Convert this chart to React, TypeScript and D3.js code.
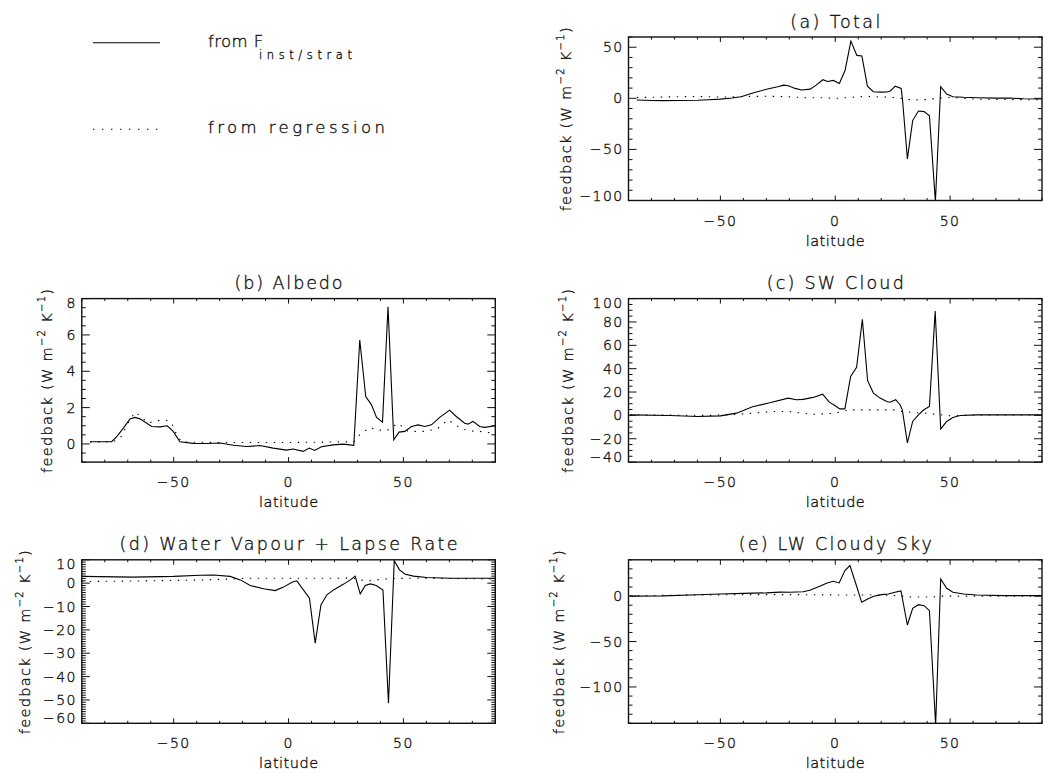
import React from 'react';
import * as d3 from 'd3';

type Point = [number, number]; // [latitude (deg), feedback (W m-2 K-1)]

// ---------- latitude axis ----------
const latDomain: [number, number] = [-90, 90];
const latMajorTicks = [-50, 0, 50];
const latMinorTicks = d3.range(-90, 91, 10);

// ---------- (a) Total ----------
const totalInst: Point[] = [
  [-86.4, -1.7], [-80, -2.1], [-75, -2.3], [-68, -2.2], [-60, -1.9], [-55, -1.4], [-50, -0.8],
  [-45, 0.3], [-41, 1.6], [-35.5, 5.4], [-30, 8.8], [-25, 11.4], [-22.5, 12.9], [-20.4, 12.3],
  [-17.5, 9.7], [-14.6, 8.1], [-10.9, 9.0], [-8.3, 12.9], [-5.4, 18.2], [-3.4, 16.5], [-0.8, 17.5],
  [1.8, 14.6], [4.3, 27.5], [6.8, 56.0], [9.4, 42.0], [11.6, 41.4], [14.0, 11.9], [16.6, 6.4],
  [19.5, 6.1], [22.4, 6.2], [24.0, 7.2], [26.1, 11.9], [28.7, 9.7], [29.3, -1.6], [31.4, -59.3],
  [33.7, -21.8], [36.2, -12.4], [38.7, -13.0], [41.0, -17.2], [43.6, -101], [45.9, 11.3],
  [48.5, 4.2], [51.2, 1.6], [55.8, 1.0], [62, 0.6], [70, 0.2], [76, 0.3], [82, -0.4], [90, -0.7],
];
const totalReg: Point[] = [
  [-86.4, 0.8], [-80, 1.0], [-70, 1.5], [-60, 1.8], [-50, 1.2], [-40, 1.8], [-30, 2.0], [-21, 1.6],
  [-13, 0.6], [-6, 0.5], [1, 0.0], [6, 0.8], [11, 1.6], [16, 1.8], [22, 1.2], [27, 0.6], [30, -0.7],
  [34, -1.6], [40, -1.2], [44, 0.0], [51, 1.0], [59, -0.7], [70, -1.1], [80, -1.3], [90, -1.4],
];
const totalTicks = [-100, -50, 0, 50];

// ---------- (b) Albedo ----------
const albedoInst: Point[] = [
  [-86.4, 0.12], [-77, 0.12], [-74.8, 0.4], [-71.9, 0.87], [-69, 1.38], [-66.8, 1.46], [-64.7, 1.38],
  [-59.6, 0.96], [-55.9, 0.94], [-52.8, 1.0], [-50.2, 0.69], [-47.3, 0.12], [-41.5, 0.03],
  [-35.7, 0.02], [-29.9, 0.05], [-24.1, -0.07], [-18.3, -0.14], [-12.5, -0.09], [-6.7, -0.23],
  [-0.9, -0.34], [2.0, -0.28], [6.4, -0.41], [9.0, -0.23], [11.4, -0.36], [14.3, -0.15],
  [19.4, -0.05], [23.8, -0.01], [28.4, -0.08], [31.0, 5.72], [33.6, 2.61], [36.1, 2.15],
  [38.3, 1.46], [40.9, 1.2], [43.3, 7.55], [45.8, 0.23], [48.1, 0.65], [50.6, 0.69], [53.5, 0.96],
  [56.4, 1.05], [59.3, 0.96], [62.2, 1.05], [65.8, 1.46], [70.1, 1.86], [73.0, 1.51], [76.7, 1.14],
  [78.1, 1.09], [80.3, 1.24], [83.2, 0.96], [85.4, 0.91], [90, 1.0],
];
const albedoReg: Point[] = [
  [-86.4, 0.1], [-76, 0.14], [-73.3, 0.32], [-69, 1.33], [-66.8, 1.75], [-63.9, 1.46], [-61, 1.15],
  [-57.4, 1.28], [-53, 1.29], [-50.9, 1.15], [-48.7, 0.5], [-46.5, 0.1], [-30, 0.08], [0, 0.08],
  [28.4, 0.12], [31, 0.5], [35.4, 0.91], [38.3, 0.78], [42.6, 0.72], [47.7, 1.14], [52, 0.69],
  [60, 0.69], [65.1, 0.87], [69.4, 1.33], [73.8, 0.96], [78.1, 0.72], [83.2, 0.69], [90, 0.58],
];
const albedoTicks = [0, 2, 4, 6, 8];

// ---------- (c) SW Cloud ----------
const swCloudInst: Point[] = [
  [-89.4, 0.4], [-72, -0.1], [-60, -1.0], [-50, -0.4], [-43, 1.9], [-36, 7.4], [-28.5, 10.8],
  [-20.5, 14.8], [-16.9, 13.4], [-14.0, 13.7], [-9.6, 15.4], [-5.5, 18.2], [-2.6, 11.3], [-0.2, 8.5],
  [2.0, 5.6], [4.2, 5.6], [6.7, 33.4], [9.3, 41.2], [11.8, 82.2], [14.1, 29.7], [16.6, 19.1],
  [19.5, 14.8], [22.4, 11.9], [23.8, 11.3], [26.3, 13.4], [28.2, 9.1], [29.2, 4.7], [31.4, -23.5],
  [33.7, -5.2], [36.2, 0.5], [38.6, 4.8], [41.0, 7.7], [43.5, 89.3], [45.9, -11.6], [48.5, -5.2],
  [51.2, -1.8], [54.4, -0.1], [61.6, 0.4], [90, 0.4],
];
const swCloudReg: Point[] = [
  [-89.4, 0.4], [-70, 0.2], [-55, 0.0], [-45, 0.6], [-35, 2.0], [-28, 3.3], [-20, 3.3], [-10, 0.9],
  [-0.2, 1.8], [6, 4.7], [15, 4.7], [26, 4.7], [29, 3.3], [39, 1.8], [44, 0.9], [50, -0.3],
  [60, 0.3], [90, 0.4],
];
const swCloudTicks = [-40, -20, 0, 20, 40, 60, 80, 100];

// ---------- (d) Water Vapour + Lapse Rate ----------
const wvlrInst: Point[] = [
  [-90, 2.9], [-67.5, 2.6], [-50, 2.9], [-38.5, 3.4], [-32.7, 3.5], [-25.4, 2.9], [-21, 1.4],
  [-16.7, -1.0], [-10.9, -2.4], [-5.8, -3.2], [-2.2, -1.7], [1.5, 0.4], [3.6, 1.0], [9.1, -6.4],
  [11.6, -25.7], [14.1, -9.3], [16.7, -5.0], [19.6, -2.9], [24.0, -0.4], [26.9, 1.4], [29.0, 3.0],
  [31.2, -4.6], [33.4, -1.0], [35.6, -0.3], [38.2, -1.0], [41.1, -2.9], [43.5, -51.4], [46.0, 9.6],
  [48.3, 5.7], [50.8, 3.8], [54.4, 3.0], [60.2, 2.4], [70.4, 2.1], [90, 2.1],
];
const wvlrReg: Point[] = [
  [-90, 0.7], [-60, 1.0], [-40, 1.3], [-25, 1.8], [-16.7, 2.1], [0, 2.1], [20, 2.1], [28, 2.2],
  [31.5, 1.3], [35, 1.0], [40, 1.6], [45, 2.0], [55, 2.1], [70, 2.0], [90, 1.8],
];
const wvlrTicks = [-60, -50, -40, -30, -20, -10, 0, 10];

// ---------- (e) LW Cloudy Sky ----------
const lwCloudInst: Point[] = [
  [-89.4, 0.0], [-75, 0.3], [-60, 1.5], [-50, 2.4], [-40, 3.0], [-30, 3.6], [-24, 4.4],
  [-19.8, 4.2], [-14.0, 4.9], [-11.1, 6.4], [-6.7, 10.8], [-3.8, 14.1], [-0.9, 16.3], [1.7, 14.5],
  [4.2, 28.1], [6.4, 33.6], [9.0, 13.4], [11.5, -6.8], [14.1, -3.1], [16.8, -0.2], [20.2, 1.7],
  [23.1, 2.4], [26.0, 4.2], [28.6, 5.7], [31.4, -31.8], [33.7, -13.4], [36.2, -9.4], [38.7, -10.5],
  [41.0, -16.0], [43.7, -142], [45.9, 18.9], [48.5, 8.6], [51.2, 4.2], [55.8, 2.4], [61.6, 1.3],
  [73.3, 0.6], [90, 0.6],
];
const lwCloudReg: Point[] = [
  [-89.4, 0.5], [-60, 1.2], [-40, 1.7], [-20, 1.7], [0, 1.3], [20, 1.3], [28, 0.5], [33, -1.0],
  [42, -1.0], [46, 0.0], [60, 0.0], [90, 0.0],
];
const lwCloudTicks = [-100, -50, 0];

// ---------- panel definitions ----------
interface PanelSpec {
  id: string;
  title: string;
  inst: Point[];
  reg: Point[];
  yDomain: [number, number];
  yTicks: number[];
  yMinorStep: number;
}

const panelSpecs: PanelSpec[] = [
  { id: 'a', title: '(a) Total', inst: totalInst, reg: totalReg, yDomain: [-100, 60], yTicks: totalTicks, yMinorStep: 10 },
  { id: 'b', title: '(b) Albedo', inst: albedoInst, reg: albedoReg, yDomain: [-1, 8], yTicks: albedoTicks, yMinorStep: 0.5 },
  { id: 'c', title: '(c) SW Cloud', inst: swCloudInst, reg: swCloudReg, yDomain: [-40, 100], yTicks: swCloudTicks, yMinorStep: 5 },
  { id: 'd', title: '(d) Water Vapour + Lapse Rate', inst: wvlrInst, reg: wvlrReg, yDomain: [-60, 10], yTicks: wvlrTicks, yMinorStep: 1 },
  { id: 'e', title: '(e) LW Cloudy Sky', inst: lwCloudInst, reg: lwCloudReg, yDomain: [-140, 40], yTicks: lwCloudTicks, yMinorStep: 10 },
];

// plot boxes (pixels), y-axis title position and title widths
const PLOT_W = 413.5;
const PLOT_H = 163.5;
const layout: Record<string, { x: number; y: number; yTitleX: number; titleW: number }> = {
  a: { x: 628.5, y: 37, yTitleX: 566, titleW: 90 },
  b: { x: 81.8, y: 298.6, yTitleX: 47, titleW: 108 },
  c: { x: 628.5, y: 298.6, yTitleX: 568, titleW: 137 },
  d: { x: 81.8, y: 559.8, yTitleX: 25, titleW: 338 },
  e: { x: 628.5, y: 559.8, yTitleX: 559, titleW: 193 },
};

// thin, single-stroke looking lettering: extra-light face with a hairline outline
const FONT = "'DejaVu Sans', 'Liberation Sans', sans-serif";
const INK = '#111';
const textStyle = {
  fontFamily: FONT,
  fontWeight: 200,
  fill: INK,
  stroke: INK,
  strokeWidth: 0.35,
} as const;

const fmt = (v: number) => (v < 0 ? `\u2212${Math.abs(v)}` : `${v}`);

function Panel({ spec }: { spec: PanelSpec }) {
  const box = layout[spec.id];
  const left = box.x;
  const right = box.x + PLOT_W;
  const top = box.y;
  const bottom = box.y + PLOT_H;

  const x = d3.scaleLinear().domain(latDomain).range([left, right]);
  const y = d3.scaleLinear().domain(spec.yDomain).range([bottom, top]);
  const line = d3.line<Point>().x((d) => x(d[0])).y((d) => y(d[1]));

  const yMinor = d3.range(spec.yDomain[0], spec.yDomain[1] + 1e-9, spec.yMinorStep);
  const clipId = `clip-${spec.id}`;

  const yMajLen = 8, yMinLen = 4, xMajLen = 5, xMinLen = 2.5;

  return (
    <g>
      <defs>
        <clipPath id={clipId}>
          <rect x={left} y={top} width={PLOT_W} height={PLOT_H} />
        </clipPath>
      </defs>

      {/* curves */}
      <g clipPath={`url(#${clipId})`} fill="none" stroke="#000">
        <path d={line(spec.reg) ?? ''} strokeWidth={1.1} strokeDasharray="1.4 6.6" />
        <path d={line(spec.inst) ?? ''} strokeWidth={1.1} strokeLinejoin="miter" />
      </g>

      {/* ticks on all four sides, pointing inward */}
      <g stroke={INK} strokeWidth={1}>
        {latMinorTicks.map((t) => {
          const len = latMajorTicks.includes(t) ? xMajLen : xMinLen;
          const px = x(t);
          return (
            <g key={`xt${t}`}>
              <line x1={px} x2={px} y1={bottom} y2={bottom - len} />
              <line x1={px} x2={px} y1={top} y2={top + len} />
            </g>
          );
        })}
        {yMinor.map((t) => {
          const isMajor = spec.yTicks.some((m) => Math.abs(m - t) < 1e-6);
          const len = isMajor ? yMajLen : yMinLen;
          const py = y(t);
          return (
            <g key={`yt${t}`}>
              <line x1={left} x2={left + len} y1={py} y2={py} />
              <line x1={right} x2={right - len} y1={py} y2={py} />
            </g>
          );
        })}
      </g>

      {/* frame */}
      <rect x={left} y={top} width={PLOT_W} height={PLOT_H} fill="none" stroke={INK} strokeWidth={1.4} />

      {/* tick labels */}
      <g {...textStyle} fontSize={14} letterSpacing={1.4}>
        {latMajorTicks.map((t) => (
          <text key={`xl${t}`} x={x(t)} y={bottom + 20} textAnchor="middle" dominantBaseline="central">
            {fmt(t)}
          </text>
        ))}
        {spec.yTicks.map((t) => {
          const py = Math.max(top + 4, Math.min(bottom - 5, y(t)));
          return (
            <text key={`yl${t}`} x={left - 5} y={py} textAnchor="end" dominantBaseline="central">
              {fmt(t)}
            </text>
          );
        })}
      </g>

      {/* titles */}
      <g {...textStyle}>
        <text x={(left + right) / 2 - box.titleW / 2} y={top - 15.5} dominantBaseline="central"
          fontSize={17.5} textLength={box.titleW} lengthAdjust="spacing">
          {spec.title}
        </text>
        <text x={(left + right) / 2 - 29.5} y={bottom + 40} dominantBaseline="central"
          fontSize={14.5} textLength={59} lengthAdjust="spacing">
          latitude
        </text>
        <text transform={`translate(${box.yTitleX},${(top + bottom) / 2}) rotate(-90)`} textAnchor="middle"
          dominantBaseline="central" fontSize={14.5} letterSpacing={1.3}>
          feedback (W m
          <tspan fontSize={10} dy={-6}>{'\u22122'}</tspan>
          <tspan dy={6}> K</tspan>
          <tspan fontSize={10} dy={-6}>{'\u22121'}</tspan>
          <tspan dy={6}>)</tspan>
        </text>
      </g>
    </g>
  );
}

function Legend() {
  return (
    <g>
      <line x1={93} x2={160} y1={42.7} y2={42.7} stroke="#000" strokeWidth={1.1} />
      <line x1={93} x2={160} y1={129.3} y2={129.3} stroke="#000" strokeWidth={1.1} strokeDasharray="1.4 7.6" />
      <g {...textStyle}>
        <text x={208} y={46.7} fontSize={16.5} letterSpacing={0.4}>
          from F
        </text>
        <text x={259} y={59} fontSize={11.5} textLength={93} lengthAdjust="spacing">
          inst/strat
        </text>
        <text x={208} y={133} fontSize={16.5} textLength={177} lengthAdjust="spacing">
          from regression
        </text>
      </g>
    </g>
  );
}

export default function App() {
  return (
    <svg width={1043} height={774} viewBox="0 0 1043 774"
      style={{ position: 'absolute', left: 0, top: 0, display: 'block', background: '#fff' }}>
      <rect x={0} y={0} width={1043} height={774} fill="#fff" />
      <Legend />
      {panelSpecs.map((s) => (
        <Panel key={s.id} spec={s} />
      ))}
    </svg>
  );
}
